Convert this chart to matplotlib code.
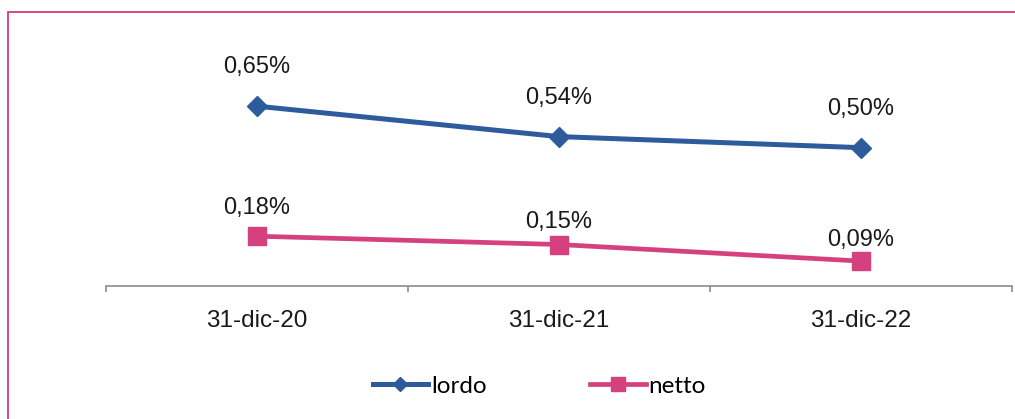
import matplotlib.pyplot as plt
from matplotlib.patches import Rectangle

# dati
dates = ['31-dic-20', '31-dic-21', '31-dic-22']
lordo = [0.65, 0.54, 0.50]
netto = [0.18, 0.15, 0.09]

blue = '#2D5B9C'
pink = '#D5417F'

plt.rcParams['font.family'] = ['Liberation Sans', 'DejaVu Sans']

fig = plt.figure(figsize=(10.15, 4.19), dpi=100)
W, H = 1015, 419
ax = fig.add_axes([106 / W, 1 - 286 / H, (1012 - 106) / W, (286 - 37) / H])

x = [0.5, 1.5, 2.5]
l1, = ax.plot(x, lordo, color=blue, lw=3.6, marker='D', ms=10, mec=blue, label='lordo')
l2, = ax.plot(x, netto, color=pink, lw=3.4, marker='s', ms=13.5, mec=pink, label='netto')

def fmt(v):
    return f'{v:.2f}%'.replace('.', ',')

for xi, v in zip(x, lordo):
    ax.annotate(fmt(v), (xi, v), xytext=(0, 28), textcoords='offset points',
                ha='center', va='center', fontsize=17, color='#1a1a1a')
for xi, v, off in zip(x, netto, [20, 16, 15]):
    ax.annotate(fmt(v), (xi, v), xytext=(0, off), textcoords='offset points',
                ha='center', va='center', fontsize=17, color='#1a1a1a')

ax.set_xlim(0, 3)
ax.set_ylim(0, 0.9)
ax.set_xticks([0, 1, 2, 3])
ax.set_xticklabels([])
ax.set_xticks(x, minor=True)
ax.set_xticklabels(dates, minor=True, fontsize=17.5, color='#1a1a1a')
ax.tick_params(axis='x', which='major', length=4.5, width=1.2, color='#8c8c8c', direction='out')
ax.tick_params(axis='x', which='minor', length=0, pad=17.5)
ax.set_yticks([])
for s in ['left', 'right', 'top']:
    ax.spines[s].set_visible(False)
ax.spines['bottom'].set_color('#8c8c8c')
ax.spines['bottom'].set_linewidth(1.2)

leg = fig.legend(handles=[l1, l2], loc='center', bbox_to_anchor=(539 / W, 1 - 386 / H),
                 ncol=2, frameon=False, handlelength=2.3, handletextpad=0.1,
                 columnspacing=4.25, markerscale=0.7,
                 prop={'family': ['Lato', 'DejaVu Sans'], 'size': 17.5})

# cornice rosa
fig.patches.append(Rectangle((8 / W, -0.1), 1.2, 1 - 12 / H + 0.1, transform=fig.transFigure,
                             fill=False, edgecolor='#D63A7E', lw=1.3))

fig.savefig('out.png', dpi=100)
